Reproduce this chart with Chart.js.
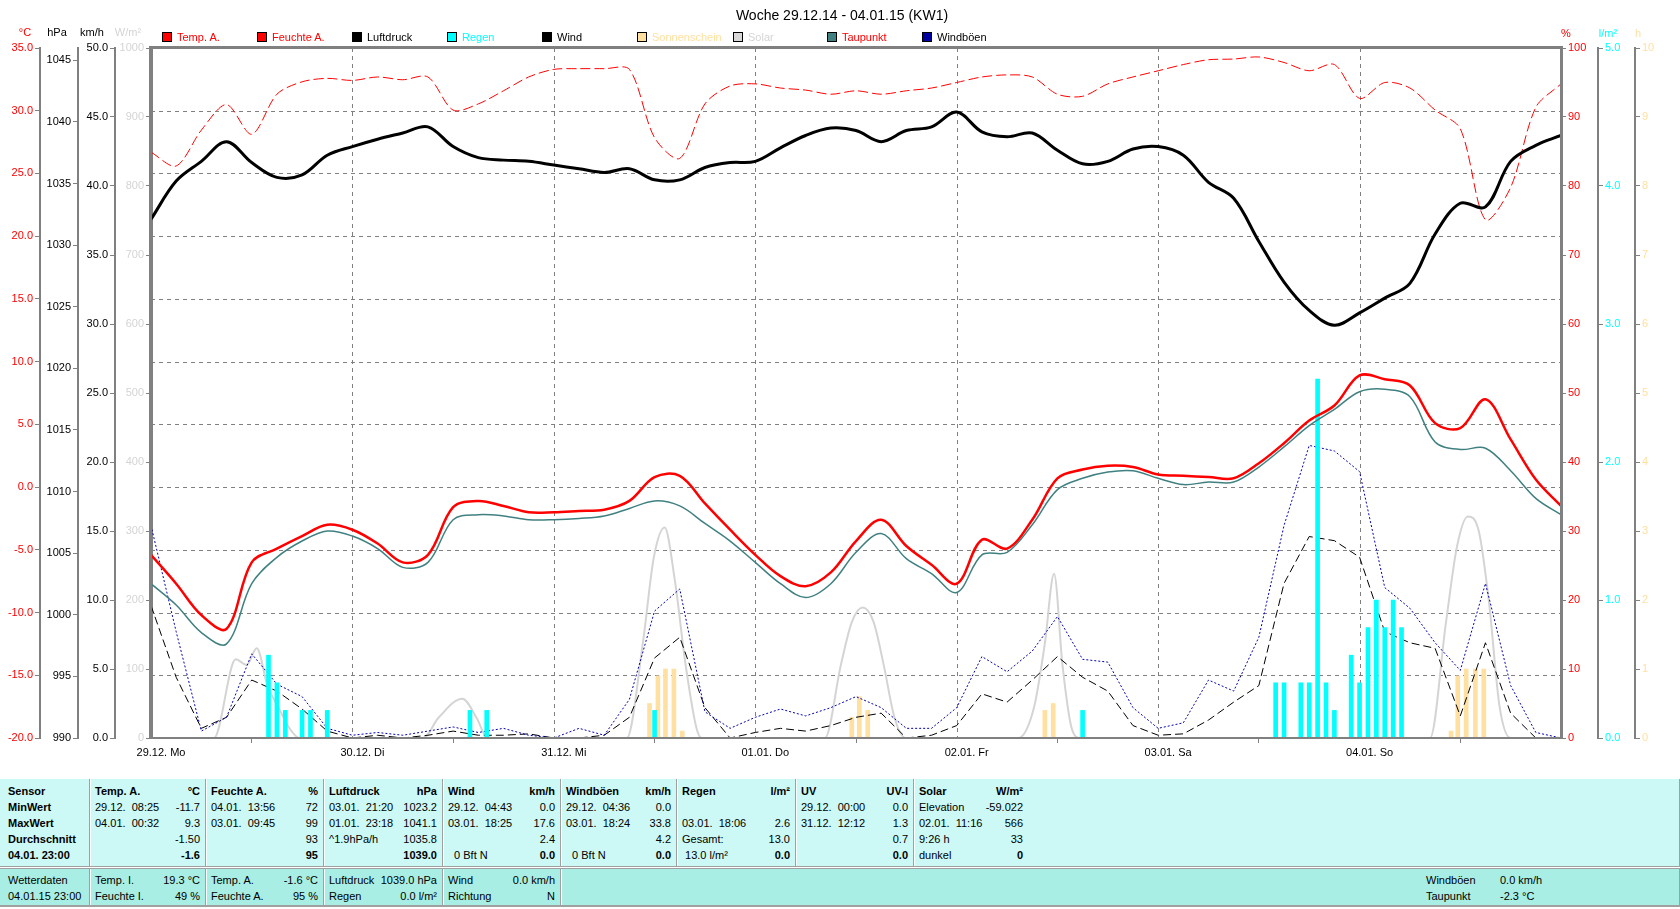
<!DOCTYPE html>
<html lang="de">
<head>
<meta charset="utf-8">
<title>Woche 29.12.14 - 04.01.15 (KW1)</title>
<script src="https://cdn.jsdelivr.net/npm/chart.js@4.4.1/dist/chart.umd.min.js"></script>
<style>
  html, body { margin: 0; padding: 0; background: #fff; }
  body { position: relative; width: 1680px; height: 909px; overflow: hidden;
         font-family: "Liberation Sans", Arial, sans-serif; font-size: 11px; color: #000; }
  #c { position: absolute; left: 0; top: 0; }
  #titel { position: absolute; left: 0; top: 7px; width: 1684px; text-align: center; font-size: 14px; line-height: 16px; }
  .leg { position: absolute; top: 31px; white-space: pre; line-height: 12px; }
  .leg i { display: inline-block; width: 8px; height: 8px; border: 1px solid #000; vertical-align: -1px; margin-right: 5px; }
  .einheit { position: absolute; top: 26px; width: 40px; margin-left: -20px; text-align: center; line-height: 12px; white-space: pre; }
  #kopf { position: absolute; left: 0; top: 779px; width: 1679px; height: 87px; background: #CCF9F6;
          border-right: 1px solid #A0A0A0; border-bottom: 1px solid #A0A0A0; }
  #fuss { position: absolute; left: 0; top: 868px; width: 1679px; height: 36px; background: #A8EEE4;
          border-top: 1px solid #A0A0A0; border-right: 1px solid #A0A0A0; border-bottom: 2px solid #A0A0A0; }
  .sp { position: absolute; top: 0; bottom: 0; padding: 4px 5px 0 5px; box-sizing: border-box; }
  #fuss .sp { padding-top: 3px; }
  .trenn { border-left: 1px solid #A0A0A0; box-shadow: inset 1px 0 0 #fff; }
  .z { display: flex; justify-content: space-between; height: 16px; line-height: 16px; white-space: pre; }
  .b { font-weight: bold; }
  .frei { position: absolute; white-space: pre; line-height: 16px; }
</style>
</head>
<body>

<canvas id="c" width="1680" height="775"></canvas>

<div id="titel">Woche 29.12.14 - 04.01.15 (KW1)</div>

<!-- legend -->
<div class="leg" style="left:162px;color:#FF0000"><i style="background:#FF0000"></i>Temp. A.</div>
<div class="leg" style="left:257px;color:#FF0000"><i style="background:#FF0000"></i>Feuchte A.</div>
<div class="leg" style="left:352px;color:#000"><i style="background:#000"></i>Luftdruck</div>
<div class="leg" style="left:447px;color:#00FFFF"><i style="background:#00FFFF"></i>Regen</div>
<div class="leg" style="left:542px;color:#000"><i style="background:#000"></i>Wind</div>
<div class="leg" style="left:637px;color:#FFE0A0"><i style="background:#FFE0A0"></i>Sonnenschein</div>
<div class="leg" style="left:733px;color:#D4D4D4"><i style="background:#D8D8D8"></i>Solar</div>
<div class="leg" style="left:827px;color:#FF0000"><i style="background:#408080"></i>Taupunkt</div>
<div class="leg" style="left:922px;color:#000"><i style="background:#0000A0"></i>Windböen</div>

<!-- units -->
<div class="einheit" style="left:25px;color:#FF0000">°C</div>
<div class="einheit" style="left:57px">hPa</div>
<div class="einheit" style="left:92px">km/h</div>
<div class="einheit" style="left:128px;color:#D4D4D4">W/m²</div>
<div class="einheit" style="left:1566px;top:27px;color:#FF0000">%</div>
<div class="einheit" style="left:1608px;top:27px;color:#00FFFF">l/m²</div>
<div class="einheit" style="left:1638px;top:27px;color:#FFE0A0">h</div>

<!-- table -->
<div id="kopf">
  <div class="sp b" style="left:0;width:89px;padding-left:8px">
    <div class="z"><span>Sensor</span></div>
    <div class="z"><span>MinWert</span></div>
    <div class="z"><span>MaxWert</span></div>
    <div class="z"><span>Durchschnitt</span></div>
    <div class="z"><span>04.01. 23:00</span></div>
  </div>
  <div class="sp trenn" style="left:89px;width:116px">
    <div class="z b"><span>Temp. A.</span><span>°C</span></div>
    <div class="z"><span>29.12.  08:25</span><span>-11.7</span></div>
    <div class="z"><span>04.01.  00:32</span><span>9.3</span></div>
    <div class="z"><span></span><span>-1.50</span></div>
    <div class="z"><span></span><span class="b">-1.6</span></div>
  </div>
  <div class="sp trenn" style="left:205px;width:118px">
    <div class="z b"><span>Feuchte A.</span><span>%</span></div>
    <div class="z"><span>04.01.  13:56</span><span>72</span></div>
    <div class="z"><span>03.01.  09:45</span><span>99</span></div>
    <div class="z"><span></span><span>93</span></div>
    <div class="z"><span></span><span class="b">95</span></div>
  </div>
  <div class="sp trenn" style="left:323px;width:119px">
    <div class="z b"><span>Luftdruck</span><span>hPa</span></div>
    <div class="z"><span>03.01.  21:20</span><span>1023.2</span></div>
    <div class="z"><span>01.01.  23:18</span><span>1041.1</span></div>
    <div class="z"><span>^1.9hPa/h</span><span>1035.8</span></div>
    <div class="z"><span></span><span class="b">1039.0</span></div>
  </div>
  <div class="sp trenn" style="left:442px;width:118px">
    <div class="z b"><span>Wind</span><span>km/h</span></div>
    <div class="z"><span>29.12.  04:43</span><span>0.0</span></div>
    <div class="z"><span>03.01.  18:25</span><span>17.6</span></div>
    <div class="z"><span></span><span>2.4</span></div>
    <div class="z"><span>  0 Bft N</span><span class="b">0.0</span></div>
  </div>
  <div class="sp trenn" style="left:560px;width:116px">
    <div class="z b"><span>Windböen</span><span>km/h</span></div>
    <div class="z"><span>29.12.  04:36</span><span>0.0</span></div>
    <div class="z"><span>03.01.  18:24</span><span>33.8</span></div>
    <div class="z"><span></span><span>4.2</span></div>
    <div class="z"><span>  0 Bft N</span><span class="b">0.0</span></div>
  </div>
  <div class="sp trenn" style="left:676px;width:119px">
    <div class="z b"><span>Regen</span><span>l/m²</span></div>
    <div class="z"><span></span><span></span></div>
    <div class="z"><span>03.01.  18:06</span><span>2.6</span></div>
    <div class="z"><span>Gesamt:</span><span>13.0</span></div>
    <div class="z"><span> 13.0 l/m²</span><span class="b">0.0</span></div>
  </div>
  <div class="sp trenn" style="left:795px;width:118px">
    <div class="z b"><span>UV</span><span>UV-I</span></div>
    <div class="z"><span>29.12.  00:00</span><span>0.0</span></div>
    <div class="z"><span>31.12.  12:12</span><span>1.3</span></div>
    <div class="z"><span></span><span>0.7</span></div>
    <div class="z"><span></span><span class="b">0.0</span></div>
  </div>
  <div class="sp trenn" style="left:913px;width:115px">
    <div class="z b"><span>Solar</span><span>W/m²</span></div>
    <div class="z"><span>Elevation</span><span>-59.022</span></div>
    <div class="z"><span>02.01.  11:16</span><span>566</span></div>
    <div class="z"><span>9:26 h</span><span>33</span></div>
    <div class="z"><span>dunkel</span><span class="b">0</span></div>
  </div>
</div>

<div id="fuss">
  <div class="sp" style="left:0;width:89px;padding-left:8px">
    <div class="z"><span>Wetterdaten</span></div>
    <div class="z"><span>04.01.15 23:00</span></div>
  </div>
  <div class="sp trenn" style="left:89px;width:116px">
    <div class="z"><span>Temp. I.</span><span>19.3 °C</span></div>
    <div class="z"><span>Feuchte I.</span><span>49 %</span></div>
  </div>
  <div class="sp trenn" style="left:205px;width:118px">
    <div class="z"><span>Temp. A.</span><span>-1.6 °C</span></div>
    <div class="z"><span>Feuchte A.</span><span>95 %</span></div>
  </div>
  <div class="sp trenn" style="left:323px;width:119px">
    <div class="z"><span>Luftdruck</span><span>1039.0 hPa</span></div>
    <div class="z"><span>Regen</span><span>0.0 l/m²</span></div>
  </div>
  <div class="sp trenn" style="left:442px;width:118px">
    <div class="z"><span>Wind</span><span>0.0 km/h</span></div>
    <div class="z"><span>Richtung</span><span>N</span></div>
  </div>
  <div class="sp trenn" style="left:560px;width:1119px"></div>
  <div class="frei" style="left:1426px;top:3px">Windböen</div>
  <div class="frei" style="left:1500px;top:3px">0.0 km/h</div>
  <div class="frei" style="left:1426px;top:19px">Taupunkt</div>
  <div class="frei" style="left:1500px;top:19px">-2.3 °C</div>
</div>

<script>
// hours since 29.12. 00:00, 3 hour grid
const stunden = [0, 3, 6, 9, 12, 15, 18, 21, 24, 27, 30, 33, 36, 39, 42, 45, 48, 51, 54, 57,
  60, 63, 66, 69, 72, 75, 78, 81, 84, 87, 90, 93, 96, 99, 102, 105, 108, 111, 114, 117,
  120, 123, 126, 129, 132, 135, 138, 141, 144, 147, 150, 153, 156, 159, 162, 165, 168];

// °C
const tempA = [-5.4, -7.7, -10.2, -11.3, -6.0, -4.9, -3.9, -3.0, -3.4, -4.5, -6.0, -5.4, -1.6, -1.1, -1.5, -2.0, -2.0, -1.9, -1.8, -1.1,
  0.8, 0.9, -1.3, -3.4, -5.4, -7.1, -7.9, -6.8, -4.3, -2.6, -4.7, -6.2, -7.7, -4.2, -4.9, -2.6, 0.7, 1.4, 1.7, 1.6,
  1.0, 0.9, 0.8, 0.7, 1.9, 3.5, 5.3, 6.5, 8.9, 8.6, 8.1, 5.1, 4.7, 7.0, 3.8, 0.6, -1.5];
const taupunkt = [-7.7, -9.4, -11.6, -12.5, -7.7, -5.6, -4.3, -3.5, -3.9, -4.9, -6.4, -6.0, -2.6, -2.2, -2.3, -2.6, -2.6, -2.5, -2.3, -1.7,
  -1.1, -1.5, -2.9, -4.3, -6.0, -7.7, -8.8, -7.7, -5.2, -3.7, -5.7, -6.9, -8.4, -5.4, -5.2, -3.0, -0.2, 0.7, 1.2, 1.3,
  0.7, 0.2, 0.4, 0.4, 1.6, 3.2, 4.9, 6.2, 7.6, 7.8, 7.2, 3.6, 3.0, 3.1, 1.3, -0.9, -2.2];

// %
const feuchteA = [84.9, 82.9, 88.1, 91.8, 87.5, 93.3, 95.1, 95.6, 95.3, 95.8, 95.4, 95.8, 91.0, 91.9, 93.8, 95.8, 96.9, 97.0, 97.0, 96.9,
  87.0, 84.0, 91.9, 94.5, 94.8, 94.2, 93.9, 93.3, 93.8, 93.3, 93.8, 94.2, 95.0, 95.8, 96.1, 95.8, 93.3, 93.0, 94.8, 95.8,
  96.7, 97.6, 98.3, 98.4, 98.7, 97.9, 96.7, 97.6, 92.7, 95.0, 94.2, 91.0, 88.3, 75.1, 79.8, 91.4, 94.8];

// hPa
const luftdruck = [1032.1, 1035.2, 1036.8, 1038.4, 1036.7, 1035.5, 1035.7, 1037.3, 1038.0, 1038.6, 1039.1, 1039.6, 1038.0, 1037.1, 1036.9, 1036.8, 1036.5, 1036.2, 1035.9, 1036.2,
  1035.3, 1035.3, 1036.3, 1036.7, 1036.8, 1037.9, 1038.9, 1039.5, 1039.3, 1038.4, 1039.3, 1039.6, 1040.8, 1039.2, 1038.8, 1039.1, 1037.7, 1036.6, 1036.8, 1037.8,
  1038.0, 1037.3, 1035.1, 1033.8, 1030.3, 1027.0, 1024.7, 1023.5, 1024.5, 1025.7, 1026.9, 1030.9, 1033.4, 1033.1, 1036.8, 1038.1, 1038.9];

// km/h
const wind = [9.6, 4.4, 0.7, 1.5, 4.2, 3.4, 2.1, 0.5, 0.0, 0.2, 0.0, 0.2, 0.5, 0.2, 0.2, 0.3, 0.0, 0.0, 0.2, 1.5,
  5.8, 7.3, 2.2, 0.0, 0.4, 0.7, 0.5, 0.9, 1.5, 1.8, 0.0, 0.2, 0.9, 3.2, 2.6, 4.2, 5.9, 4.4, 3.4, 0.9,
  0.2, 0.3, 1.3, 2.6, 3.8, 11.2, 14.6, 14.3, 13.1, 7.7, 6.9, 6.5, 1.6, 6.9, 1.8, 0.0, 0.0];
const windboeen = [15.4, 7.7, 0.5, 1.5, 6.1, 3.9, 3.0, 0.7, 0.2, 0.4, 0.2, 0.5, 0.8, 0.4, 0.7, 0.2, 0.0, 0.7, 0.2, 2.8,
  9.2, 10.8, 1.9, 0.7, 1.5, 2.1, 1.6, 2.2, 3.0, 2.2, 0.7, 0.7, 2.2, 5.9, 4.8, 6.3, 8.8, 5.7, 5.5, 2.2,
  0.7, 1.1, 4.2, 3.4, 7.3, 15.4, 21.2, 20.8, 19.3, 10.9, 9.4, 6.9, 4.9, 11.2, 3.8, 0.4, 0.0];

// W/m²
const solarStunden = [0, 7.5, 10.1, 11.4, 12.6, 13.9, 15.2, 16.5, 17.7,
  32.4, 34.3, 37.1, 38.8, 40.1,
  56.7, 58.6, 59.9, 61.2, 62.4, 63.7, 65.0, 65.6,
  80.3, 82.2, 83.5, 84.8, 86.1, 87.3, 88.6, 89.9,
  103.3, 105.2, 106.5, 107.6, 108.6, 109.7, 110.7,
  152.4, 154.3, 155.6, 156.9, 158.2, 159.4, 160.7, 162.0, 168];
const solar = [0, 0, 114, 106, 130, 75, 44, 14, 0,
  0, 30, 57, 29, 0,
  0, 137, 261, 305, 230, 106, 14, 0,
  0, 106, 168, 189, 168, 106, 29, 0,
  0, 44, 137, 238, 106, 14, 0,
  0, 168, 277, 321, 300, 199, 44, 0, 0];

// l/m² per hour
const regenStunden = [14, 15, 16, 18, 19, 21, 38, 40, 60, 111, 134, 135, 137, 138, 139, 140, 141, 143, 144, 145, 146, 147, 148, 149];
const regen = [0.6, 0.4, 0.2, 0.2, 0.2, 0.2, 0.2, 0.2, 0.2, 0.2, 0.4, 0.4, 0.4, 0.4, 2.6, 0.4, 0.2, 0.6, 0.4, 0.8, 1.0, 0.8, 1.0, 0.8];

// sunshine h per hour
const sonneStunden = [59.4, 60.4, 61.3, 62.3, 63.3, 83.5, 84.4, 85.4, 106.5, 107.5, 154.9, 155.7, 156.7, 157.8, 158.8];
const sonne = [0.5, 0.9, 1.0, 1.0, 0.1, 0.3, 0.6, 0.4, 0.4, 0.5, 0.1, 0.9, 1.0, 1.0, 1.0];

// axis labels
const tageLabels = ['29.12. Mo', '30.12. Di', '31.12. Mi', '01.01. Do', '02.01. Fr', '03.01. Sa', '04.01. So'];
const tageTicks = [0, 24, 48, 72, 96, 120, 144];
const tempTicks = [-20, -15, -10, -5, 0, 5, 10, 15, 20, 25, 30, 35];
const druckTicks = [990, 995, 1000, 1005, 1010, 1015, 1020, 1025, 1030, 1035, 1040, 1045];
const windTicks = [0, 5, 10, 15, 20, 25, 30, 35, 40, 45, 50];
const solarTicks = [0, 100, 200, 300, 400, 500, 600, 700, 800, 900, 1000];
const feuchteTicks = [0, 10, 20, 30, 40, 50, 60, 70, 80, 90, 100];
const regenTicks = [0, 1, 2, 3, 4, 5];
const sonneTicks = [0, 1, 2, 3, 4, 5, 6, 7, 8, 9, 10];

Chart.defaults.font.family = '"Liberation Sans", Arial, sans-serif';
Chart.defaults.font.size = 11;
Chart.defaults.color = '#000';

function punkte(xs, ys) {
  return xs.map(function (x, i) { return {x: x, y: ys[i]}; });
}

// one vertical axis with fixed width
function achse(pos, weight, breite, min, max, werte, farbe, fmt, rand) {
  return {
    type: 'linear',
    position: pos,
    weight: weight,
    min: min,
    max: max,
    afterBuildTicks: function (s) { s.ticks = werte.map(function (v) { return {value: v}; }); },
    afterFit: function (s) { s.width = breite; },
    grid: {drawOnChartArea: false, color: '#808080', lineWidth: 1, tickLength: 5},
    border: {display: true, color: '#808080', width: rand || 2},
    ticks: {color: farbe, padding: 2, autoSkip: false, callback: fmt}
  };
}

function eins(v) { return v.toFixed(1); }
function roh(v) { return String(v); }

// dashed grid and frame
const raster = {
  id: 'raster',
  beforeDatasetsDraw: function (chart) {
    const ctx = chart.ctx, a = chart.chartArea;
    const yT = chart.scales.yTemp, x = chart.scales.x;
    ctx.save();
    ctx.strokeStyle = '#808080';
    ctx.lineWidth = 1;
    ctx.setLineDash([4, 4]);
    ctx.beginPath();
    tempTicks.slice(1, -1).forEach(function (v) {
      const y = Math.round(yT.getPixelForValue(v)) + 0.5;
      ctx.moveTo(a.left, y);
      ctx.lineTo(a.right, y);
    });
    tageTicks.slice(1).forEach(function (v) {
      const px = Math.round(x.getPixelForValue(v)) + 0.5;
      ctx.moveTo(px, a.top);
      ctx.lineTo(px, a.bottom);
    });
    ctx.stroke();
    ctx.restore();
  },
  afterDatasetsDraw: function (chart) {
    const ctx = chart.ctx, a = chart.chartArea;
    ctx.save();
    ctx.strokeStyle = '#808080';
    ctx.lineWidth = 3;
    ctx.beginPath();
    ctx.moveTo(a.left - 0.5, a.bottom);
    ctx.lineTo(a.left - 0.5, a.top - 0.5);
    ctx.lineTo(a.right + 0.5, a.top - 0.5);
    ctx.lineTo(a.right + 0.5, a.bottom);
    ctx.stroke();
    ctx.lineWidth = 2;
    ctx.beginPath();
    ctx.moveTo(a.left, a.bottom);
    ctx.lineTo(a.right, a.bottom);
    ctx.stroke();
    ctx.restore();
  }
};

// glatt: 'monotone', a tension value, or 0 for straight segments
function linie(label, data, achseId, farbe, breite, dash, glatt, order) {
  return {
    type: 'line',
    label: label,
    data: data,
    yAxisID: achseId,
    borderColor: farbe,
    borderWidth: breite,
    borderDash: dash,
    pointRadius: 0,
    fill: false,
    cubicInterpolationMode: glatt === 'monotone' ? 'monotone' : 'default',
    tension: glatt === 'monotone' ? 0 : glatt,
    order: order
  };
}

new Chart(document.getElementById('c'), {
  type: 'line',
  data: {
    datasets: [
      linie('Luftdruck', punkte(stunden, luftdruck), 'yDruck', '#000000', 3, [], 0.35, 0),
      linie('Temp. A.', punkte(stunden, tempA), 'yTemp', '#FF0000', 2.5, [], 0.35, 1),
      linie('Taupunkt', punkte(stunden, taupunkt), 'yTemp', '#408080', 1.5, [], 0.35, 2),
      linie('Feuchte A.', punkte(stunden, feuchteA), 'yFeuchte', '#FF0000', 1, [10, 4], 0.3, 3),
      {
        type: 'bar', label: 'Regen', data: punkte(regenStunden, regen), yAxisID: 'yRegen',
        backgroundColor: '#00FFFF', barThickness: 4, grouped: false, order: 4
      },
      linie('Windböen', punkte(stunden, windboeen), 'yWind', '#0000B0', 1, [2, 2], 0, 5),
      linie('Wind', punkte(stunden, wind), 'yWind', '#000000', 1, [8, 4], 0, 6),
      {
        type: 'bar', label: 'Sonnenschein', data: punkte(sonneStunden, sonne), yAxisID: 'ySonne',
        backgroundColor: '#FFE0A0', barThickness: 4, grouped: false, order: 7
      },
      linie('Solar', punkte(solarStunden, solar), 'ySolar', '#D4D4D4', 2, [], 'monotone', 8)
    ]
  },
  options: {
    responsive: false,
    animation: false,
    devicePixelRatio: 1,
    layout: {padding: {top: 48, left: 0, right: 0, bottom: 0}},
    plugins: {legend: {display: false}, title: {display: false}, tooltip: {enabled: false}},
    scales: {
      x: {
        type: 'linear', position: 'bottom', min: 0, max: 168, offset: false,
        afterBuildTicks: function (s) { s.ticks = tageTicks.map(function (v) { return {value: v}; }); },
        afterFit: function (s) { s.height = 37; },
        grid: {drawOnChartArea: false, color: '#808080', tickLength: 5},
        border: {display: true, color: '#808080', width: 2},
        ticks: {
          color: '#000', maxRotation: 0, autoSkip: false, padding: 3, labelOffset: 10,
          callback: function (v, i) { return tageLabels[i]; }
        }
      },
      ySolar: achse('left', 1, 36, 0, 1000, solarTicks, '#D4D4D4', roh, 3),
      yWind: achse('left', 2, 37, 0, 50, windTicks, '#000000', eins),
      yDruck: achse('left', 3, 38, 990, 1046, druckTicks, '#000000', roh),
      yTemp: achse('left', 4, 40, -20, 35, tempTicks, '#FF0000', eins),
      yFeuchte: achse('right', 1, 37, 0, 100, feuchteTicks, '#FF0000', roh, 3),
      yRegen: achse('right', 2, 37, 0, 5, regenTicks, '#00FFFF', eins),
      ySonne: achse('right', 3, 45, 0, 10, sonneTicks, '#FFE0A0', roh)
    }
  },
  plugins: [raster]
});
</script>
</body>
</html>
